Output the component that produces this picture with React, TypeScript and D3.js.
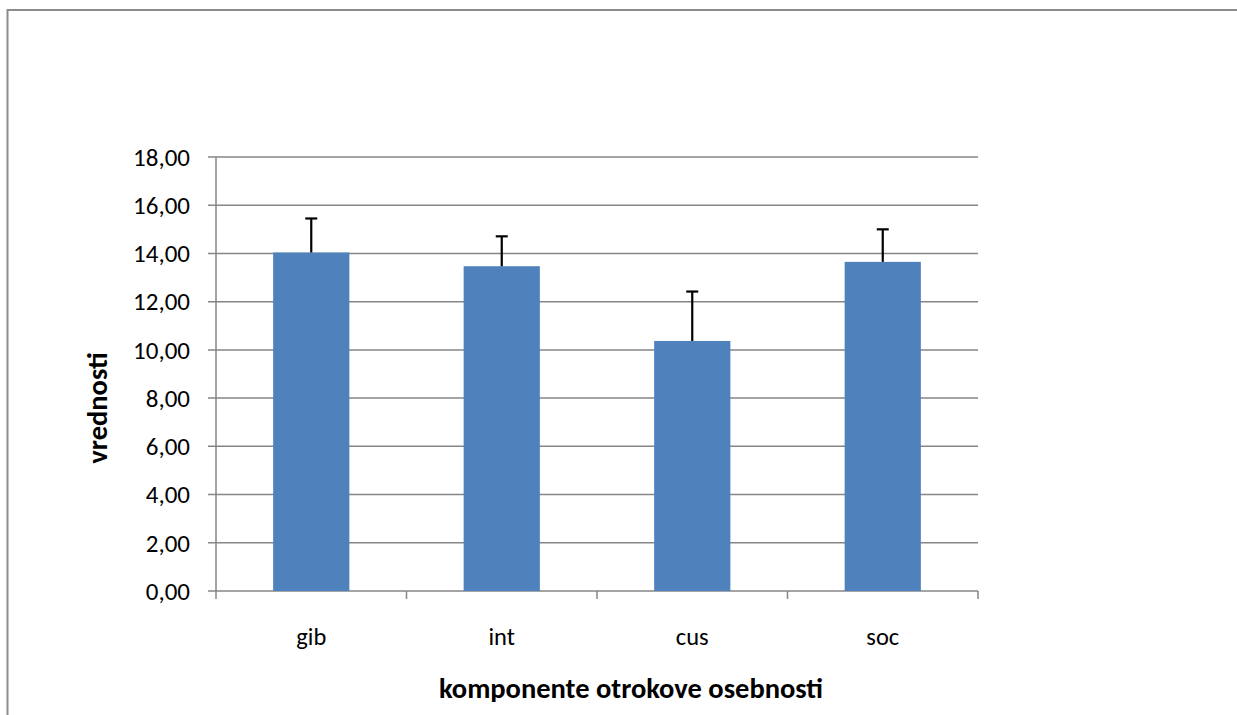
import * as React from 'react';
import * as d3 from 'd3';

const categories = ['gib', 'int', 'cus', 'soc'];
const means = [14.04, 13.47, 10.37, 13.65];
const errors = [1.41, 1.24, 2.05, 1.35];
const yTicks = [0, 2, 4, 6, 8, 10, 12, 14, 16, 18];

const W = 1237;
const H = 715;
const plot = { left: 216, right: 978, top: 157, bottom: 591 };
const font = 'Carlito, Lato, "Open Sans", sans-serif';

const App: React.FC = () => {
  const x = d3.scaleBand<string>()
    .domain(categories)
    .range([plot.left, plot.right])
    .paddingInner(0.6)
    .paddingOuter(0.3);

  const y = d3.scaleLinear().domain([0, 18]).range([plot.bottom, plot.top]);

  const fmt = (v: number) => d3.format('.2f')(v).replace('.', ',');
  const step = x.step();
  const catEdges = d3.range(categories.length + 1).map(i => plot.left + i * step);

  return (
    <div style={{ position: 'fixed', left: 0, top: 0, width: W, height: H, overflow: 'hidden', background: '#fff' }}>
      <svg width={W} height={H} style={{ display: 'block' }}>
        {/* outer chart frame (left + top edges visible) */}
        <path d={`M7.5,${H + 5} V10 H${W + 5}`} fill="none" stroke="#8c8c8c" strokeWidth={2} />

        {/* gridlines + y ticks */}
        {yTicks.map(t => (
          <g key={t}>
            <line x1={plot.left - 8} x2={plot.right} y1={y(t)} y2={y(t)} stroke="#868686" strokeWidth={1.5} />
            <text
              x={plot.left - 26}
              y={y(t)}
              dy="0.35em"
              textAnchor="end"
              fontFamily={font}
              fontSize={25}
              fill="#000"
            >
              {fmt(t)}
            </text>
          </g>
        ))}

        {/* y axis line */}
        <line x1={plot.left} x2={plot.left} y1={plot.top} y2={plot.bottom} stroke="#868686" strokeWidth={1.5} />

        {/* category ticks */}
        {catEdges.map((cx, i) => (
          <line key={i} x1={cx} x2={cx} y1={plot.bottom} y2={plot.bottom + 8} stroke="#868686" strokeWidth={1.5} />
        ))}

        {/* bars */}
        {categories.map((c, i) => (
          <rect
            key={c}
            x={x(c)}
            y={y(means[i])}
            width={x.bandwidth()}
            height={y(0) - y(means[i])}
            fill="#4f81bd"
          />
        ))}

        {/* error bars (upper only) */}
        {categories.map((c, i) => {
          const cx = (x(c) ?? 0) + x.bandwidth() / 2;
          const top = y(means[i] + errors[i]);
          return (
            <g key={c} stroke="#000" strokeWidth={2.2}>
              <line x1={cx} x2={cx} y1={y(means[i])} y2={top} />
              <line x1={cx - 6} x2={cx + 6} y1={top} y2={top} />
            </g>
          );
        })}

        {/* category labels */}
        {categories.map(c => (
          <text
            key={c}
            x={(x(c) ?? 0) + x.bandwidth() / 2}
            y={636}
            dy="0.35em"
            textAnchor="middle"
            fontFamily={font}
            fontSize={24.5}
            fill="#000"
          >
            {c}
          </text>
        ))}

        {/* axis titles */}
        <text x={631} y={688} dy="0.35em" textAnchor="middle" fontFamily={font} fontSize={28.5} fontWeight="bold">
          komponente otrokove osebnosti
        </text>
        <text
          transform={`translate(97,408) rotate(-90)`}
          dy="0.35em"
          textAnchor="middle"
          fontFamily={font}
          fontSize={28.5}
          fontWeight="bold"
        >
          vrednosti
        </text>
      </svg>
    </div>
  );
};

export default App;
